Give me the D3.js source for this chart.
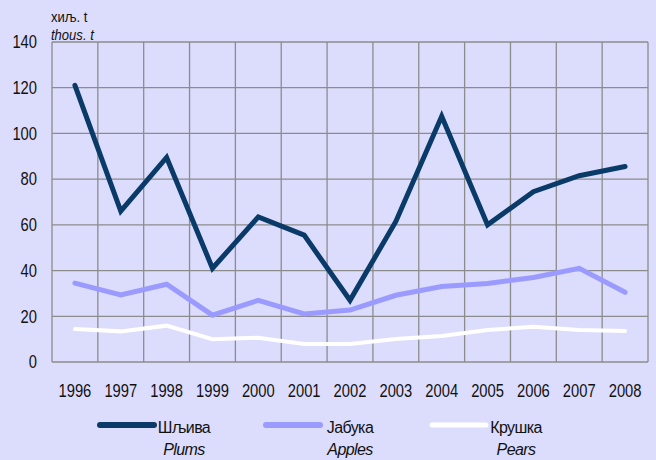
<!DOCTYPE html>
<html lang="sr">
<head>
<meta charset="UTF-8">
<title>Шљива, јабука, крушка</title>
<script src="https://cdn.jsdelivr.net/npm/d3@7"></script>
<style>
  body { margin: 0; background: #dcdcfd; }
  text { font-family: "Liberation Sans", Arial, sans-serif; fill: #111; }
</style>
</head>
<body>
<script>
    // data
    var years = ["1996","1997","1998","1999","2000","2001","2002","2003","2004","2005","2006","2007","2008"];
    var plums  = [121, 66, 89.5, 41, 63.5, 55.5, 27, 61.5, 107.5, 60, 74.5, 81.5, 85.5];
    var apples = [34.5, 29.3, 34, 20.5, 27, 21, 22.7, 29.2, 33, 34.3, 37, 41, 30.5];
    var pears  = [14.4, 13.4, 15.9, 10, 10.6, 7.9, 7.9, 10.1, 11.4, 14, 15.4, 14, 13.6];
    var yTicks = [0, 20, 40, 60, 80, 100, 120, 140];

    var series = [
        {sr: "Шљива",  en: "Plums",  values: plums,  color: "#0a3a68", w: 5},
        {sr: "Јабука", en: "Apples", values: apples, color: "#9b9bff", w: 5},
        {sr: "Крушка", en: "Pears",  values: pears,  color: "#ffffff", w: 4}
    ];

    var width = 656, height = 460;
    var plot = {left: 52, right: 648, top: 42, bottom: 362};
    var narrow = 0.82;   // the original font is a narrow one

    var svg = d3.select("body").append("svg")
        .attr("width", width).attr("height", height);

    svg.append("rect").attr("width", width).attr("height", height).attr("fill", "#dcdcfd");

    var x = d3.scaleBand().domain(years).range([plot.left, plot.right]);
    var y = d3.scaleLinear().domain([0, 140]).range([plot.bottom, plot.top]);

    // grid - horizontal
    svg.append("g").selectAll("line").data(yTicks).enter().append("line")
        .attr("x1", plot.left).attr("x2", plot.right)
        .attr("y1", function(d){ return y(d); }).attr("y2", function(d){ return y(d); })
        .attr("stroke", "#8c8c8c").attr("stroke-width", 1.3);

    // grid - vertical at band edges
    var edges = years.map(function(d){ return x(d); }).concat([plot.right]);
    svg.append("g").selectAll("line").data(edges).enter().append("line")
        .attr("x1", function(d){ return d; }).attr("x2", function(d){ return d; })
        .attr("y1", plot.top).attr("y2", plot.bottom)
        .attr("stroke", "#8c8c8c").attr("stroke-width", 1.3);

    // axes
    var yAxis = d3.axisLeft(y).tickValues(yTicks).tickSize(0).tickPadding(15);
    var gy = svg.append("g").attr("transform", "translate(" + plot.left + ",0)").call(yAxis);
    gy.select(".domain").remove();
    gy.selectAll("text")
        .attr("x", -15 / narrow)
        .attr("transform", "scale(" + narrow + ",1)")
        .style("font-size", "18px").attr("fill", "#111");

    var xAxis = d3.axisBottom(x).tickSize(0).tickPadding(22);
    var gx = svg.append("g").attr("transform", "translate(0," + plot.bottom + ")").call(xAxis);
    gx.select(".domain").remove();
    gx.selectAll("text")
        .attr("transform", "scale(" + narrow + ",1)")
        .style("font-size", "18px").attr("fill", "#111");

    // unit labels
    svg.append("text").attr("x", 51 / 0.9).attr("y", 22).attr("transform", "scale(0.9,1)")
        .style("font-size", "14.5px").text("хиљ. t");
    svg.append("text").attr("x", 51 / 0.9).attr("y", 40).attr("transform", "scale(0.9,1)")
        .style("font-size", "14.5px").style("font-style", "italic").text("thous. t");

    // lines
    var line = d3.line()
        .x(function(d, i){ return x(years[i]) + x.bandwidth() / 2; })
        .y(function(d){ return y(d); });

    svg.append("g").selectAll("path").data(series.slice().reverse()).enter().append("path")
        .attr("d", function(s){ return line(s.values); })
        .attr("fill", "none")
        .attr("stroke", function(s){ return s.color; })
        .attr("stroke-width", function(s){ return s.w; })
        .attr("stroke-linejoin", "miter")
        .attr("stroke-linecap", "round");

    // legend
    var legend = svg.append("g").selectAll("g").data(series).enter().append("g")
        .attr("transform", function(s, i){ return "translate(" + (100 + i * 166) + ",425)"; });
    legend.append("line")
        .attr("x1", 0).attr("x2", 54).attr("y1", 0).attr("y2", 0)
        .attr("stroke", function(s){ return s.color; })
        .attr("stroke-width", function(s){ return s.w + 1; })
        .attr("stroke-linecap", "round");
    legend.append("text").attr("x", 84).attr("y", 8).attr("text-anchor", "middle")
        .style("font-size", "16px").style("letter-spacing", "-0.6px")
        .text(function(s){ return s.sr; });
    legend.append("text").attr("x", 84).attr("y", 30).attr("text-anchor", "middle")
        .style("font-size", "16px").style("font-style", "italic").style("letter-spacing", "-0.6px")
        .text(function(s){ return s.en; });
</script>
</body>
</html>
